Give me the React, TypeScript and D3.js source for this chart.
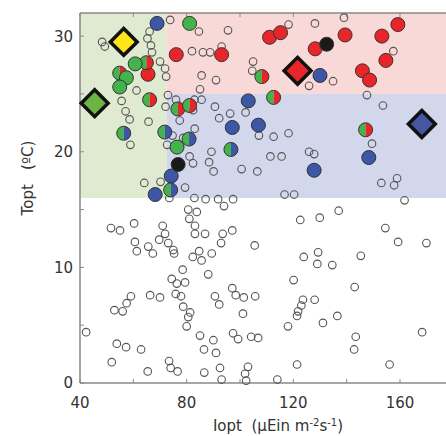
import React from 'react';
import * as d3 from 'd3';

// Data (Iopt, Topt)

type Pt = [number, number];

const openPts: Pt[] = [
    [48.3, 29.5], [49.3, 29.1], [66.1, 30.4], [73.8, 31.4], [65.3, 29.8], [66.6, 29.2], [67.0, 28.6],
    [70.0, 27.8], [71.9, 27.2], [72.3, 26.5], [84.6, 30.4], [82.0, 28.7], [86.1, 28.6], [85.6, 26.6],
    [61.2, 25.3], [55.6, 24.4], [57.1, 23.5], [58.6, 22.8], [65.7, 22.6], [58.9, 20.6], [73.0, 24.9],
    [76.0, 24.5], [72.1, 23.9], [82.9, 24.5], [85.6, 24.5], [82.4, 23.6], [77.4, 22.7], [74.7, 21.4],
    [72.7, 20.6], [83.0, 22.0], [78.7, 21.2], [81.1, 19.6], [82.4, 19.0], [89.3, 20.0], [88.4, 19.1],
    [90.1, 18.3], [64.1, 17.3], [70.2, 17.4], [73.5, 16.0], [79.4, 16.9], [82.9, 16.0], [87.1, 15.9],
    [91.8, 15.9], [80.6, 15.0], [83.8, 14.8], [81.0, 14.2], [83.1, 13.6], [83.1, 12.9], [86.9, 12.9],
    [51.6, 13.4], [55.0, 13.2], [60.3, 13.8], [71.0, 13.6], [71.9, 12.9], [69.7, 12.4], [73.1, 12.1],
    [75.0, 11.5], [75.3, 11.2], [60.6, 12.2], [61.3, 11.4], [65.6, 11.8], [67.3, 11.2], [82.3, 10.9],
    [84.7, 11.4], [85.6, 10.6], [89.4, 11.2], [92.9, 12.1], [93.5, 12.9], [94.0, 15.3], [88.1, 9.4],
    [78.5, 9.8], [74.4, 9.0], [76.3, 8.6], [79.4, 8.7], [75.9, 7.7], [77.9, 7.5], [90.6, 7.5],
    [92.2, 6.8], [59.1, 7.5], [57.5, 6.9], [52.9, 6.3], [56.0, 6.2], [66.3, 7.6], [70.0, 7.4],
    [78.7, 6.6], [81.3, 6.1], [80.6, 5.7], [80.0, 4.9], [42.3, 4.4], [53.8, 3.4], [57.3, 3.1],
    [62.9, 2.9], [85.0, 4.1], [90.0, 3.7], [86.5, 2.9], [91.0, 2.6], [92.5, 1.3], [51.9, 1.8],
    [73.4, 1.9], [74.0, 1.3], [76.6, 1.0], [65.4, 1.0], [86.6, 0.9], [93.1, 0.3], [101.9, 0.8],
    [102.3, 0.2], [114.0, 0.3], [103.0, 1.4], [121.4, 1.6], [156.1, 1.6], [97.4, 4.3], [99.3, 3.8],
    [104.2, 4.0], [106.8, 3.9], [143.4, 4.0], [142.8, 2.9], [168.3, 4.4], [101.1, 6.0], [136.5, 5.8],
    [131.1, 5.2], [118.0, 4.9], [123.6, 7.2], [123.0, 6.7], [121.8, 6.2], [121.4, 5.8], [128.0, 7.2],
    [97.1, 8.2], [98.4, 7.6], [101.4, 7.4], [105.7, 7.5], [120.1, 8.9], [143.0, 8.3], [123.9, 10.9],
    [129.3, 11.3], [129.0, 10.3], [134.6, 10.2], [145.3, 11.0], [105.5, 11.9], [97.1, 13.2],
    [122.6, 14.1], [129.9, 14.3], [137.0, 14.9], [154.5, 13.4], [159.3, 12.2], [169.9, 12.1],
    [97.4, 15.9], [116.7, 16.3], [120.3, 16.3], [100.6, 18.5], [106.5, 18.3], [111.4, 19.6],
    [115.6, 19.6], [125.9, 20.0], [127.8, 19.8], [153.0, 17.3], [157.8, 17.1], [158.9, 17.7],
    [161.7, 15.8], [149.5, 20.7], [107.1, 21.4], [112.6, 21.3], [118.2, 21.6], [102.1, 23.4],
    [96.3, 23.3], [92.2, 22.9], [90.6, 23.9], [147.6, 24.9], [153.6, 24.0], [125.9, 25.7],
    [134.9, 26.1], [104.9, 27.8], [104.6, 27.0], [88.8, 28.6], [93.1, 29.1], [95.5, 30.5],
    [118.2, 31.0], [128.1, 31.1], [139.0, 31.6], [157.5, 28.7], [91.0, 26.2], [85.0, 25.4],
];

const bluePts: Pt[] = [
    [68.9, 31.1], [130.0, 26.6], [103.1, 24.4], [97.1, 22.1], [106.9, 22.3], [127.8, 18.4],
    [148.3, 19.5], [74.2, 17.9], [68.2, 16.3],
];
const blackPts: Pt[] = [[76.8, 18.9], [132.5, 29.3]];
const redPts: Pt[] = [
    [76.1, 28.4], [65.5, 26.7], [93.1, 28.4], [111.1, 29.9], [115.2, 30.3], [128.2, 28.9],
    [139.4, 30.1], [153.2, 30.0], [159.2, 31.0], [154.7, 27.9], [145.9, 27.0], [148.6, 26.2],
];
const greenRedPts: Pt[] = [
    [64.9, 27.7], [54.9, 26.8], [66.1, 24.5], [76.7, 23.7], [81.1, 24.0], [108.2, 26.5],
    [112.6, 24.7], [147.1, 21.9],
];
const greenPts: Pt[] = [[81.1, 31.1], [60.7, 27.6], [57.4, 26.4], [54.9, 25.6], [76.4, 20.4]];
const greenBluePts: Pt[] = [[56.4, 21.6], [71.8, 21.7], [80.9, 21.1], [96.6, 20.2], [74.0, 16.7]];

const diamondPts: Pt[] = [[56.4, 29.5], [45.5, 24.2], [121.6, 27.0], [168.2, 22.4]];
const diamondFill = ['#ffe41a', '#6db446', '#e8262a', '#4656a0'];

// zones: [x0, x1, y0, y1]
const zoneBounds: [number, number, number, number][] = [
    [40, 72.5, 16, 32],
    [72.5, 178, 25, 32],
    [72.5, 178, 16, 25],
];
const zoneFill = ['#e0ead0', '#f8d9d8', '#d3d7ec'];

const xMajor = [40, 80, 120, 160];
const xMinor = [60, 100, 140];
const yMajor = [0, 10, 20, 30];
const yMinor = [5, 15, 25];

const W = 446;
const H = 436;
const left = 80;
const right = 446;
const top = 13;
const bottom = 383;

const C_RED = '#e8262a';
const C_BLUE = '#3d56a6';
const C_GREEN = '#45b34b';
const AXIS = '#888';
const TEXT = '#333';

function App() {
    const x = d3.scaleLinear().domain([40, 177.25]).range([left, right]);
    const y = d3.scaleLinear().domain([0, 32]).range([bottom, top]);
    const R = 7;
    const halfL = d3.arc<any>()({ innerRadius: 0, outerRadius: R, startAngle: Math.PI, endAngle: 2 * Math.PI } as any) as string;
    const halfR = d3.arc<any>()({ innerRadius: 0, outerRadius: R, startAngle: 0, endAngle: Math.PI } as any) as string;
    const side = 19; // diamond side, ~27px across

    const split = (pts: Pt[], col: string, key: string) => pts.map((p, i) => (
        <g key={key + i} transform={`translate(${x(p[0])},${y(p[1])})`}>
            <path d={halfL} fill={C_GREEN} />
            <path d={halfR} fill={col} />
            <circle r={R} fill="none" stroke="#333" strokeWidth={1} />
        </g>
    ));
    const solid = (pts: Pt[], col: string, key: string) => pts.map((p, i) => (
        <circle key={key + i} cx={x(p[0])} cy={y(p[1])} r={R} fill={col} stroke="#333" strokeWidth={1} />
    ));

    return (
        <svg width={W} height={H} style={{ position: 'absolute', left: 0, top: 0, background: '#fff' }}
            fontFamily="'DejaVu Sans', sans-serif">
            {zoneBounds.map((z, i) => (
                <rect key={'z' + i} x={x(z[0])} y={y(z[3])} width={x(z[1]) - x(z[0])} height={y(z[2]) - y(z[3])} fill={zoneFill[i]} />
            ))}

            {/* axes */}
            <line x1={left} x2={right} y1={top} y2={top} stroke={AXIS} strokeWidth={1.5} />
            <line x1={left} x2={right} y1={bottom} y2={bottom} stroke={AXIS} strokeWidth={1.5} />
            <line x1={left} x2={left} y1={top} y2={bottom} stroke={AXIS} strokeWidth={1.5} />
            {[...xMajor, ...xMinor].map((t) => (
                <g key={'xt' + t}>
                    <line x1={x(t)} x2={x(t)} y1={bottom} y2={bottom - 4} stroke={AXIS} strokeWidth={1} />
                    <line x1={x(t)} x2={x(t)} y1={top} y2={top + 4} stroke={AXIS} strokeWidth={1} />
                </g>
            ))}
            {[...yMajor, ...yMinor].map((t) => (
                <line key={'yt' + t} x1={left} x2={left + 4} y1={y(t)} y2={y(t)} stroke={AXIS} strokeWidth={1} />
            ))}
            {xMajor.map((t) => (
                <text key={'xl' + t} x={x(t)} y={408} textAnchor="middle" fontSize={15} fill={TEXT}>{t}</text>
            ))}
            {yMajor.map((t) => (
                <text key={'yl' + t} x={73} y={y(t)} dy="0.36em" textAnchor="end" fontSize={15} fill={TEXT}>{t}</text>
            ))}
            <text x={278} y={431} textAnchor="middle" fontSize={15} fill={TEXT}>
                Iopt{'\u00a0\u00a0'}(μEin m<tspan dy={-5} fontSize={10}>-2</tspan><tspan dy={5}>s</tspan><tspan dy={-5} fontSize={10}>-1</tspan><tspan dy={5}>)</tspan>
            </text>
            <text transform="translate(33,178) rotate(-90)" textAnchor="middle" fontSize={15} fill={TEXT}>
                Topt{'\u00a0\u00a0\u00a0'}(ºC)
            </text>

            {/* open circles */}
            {openPts.map((p, i) => (
                <circle key={'o' + i} cx={x(p[0])} cy={y(p[1])} r={3.8} fill="none" stroke="#555" strokeWidth={1.1} />
            ))}

            {solid(bluePts, C_BLUE, 'b')}
            {solid(redPts, C_RED, 'r')}
            {split(greenRedPts, C_RED, 'gr')}
            {solid(greenPts, C_GREEN, 'g')}
            {split(greenBluePts, C_BLUE, 'gb')}
            {solid(blackPts, '#1a1a1a', 'k')}

            {diamondPts.map((p, i) => (
                <rect key={'d' + i} x={-side / 2} y={-side / 2} width={side} height={side}
                    transform={`translate(${x(p[0])},${y(p[1])}) rotate(45)`}
                    fill={diamondFill[i]} stroke="#111" strokeWidth={3.5} />
            ))}
        </svg>
    );
}

export default App;
